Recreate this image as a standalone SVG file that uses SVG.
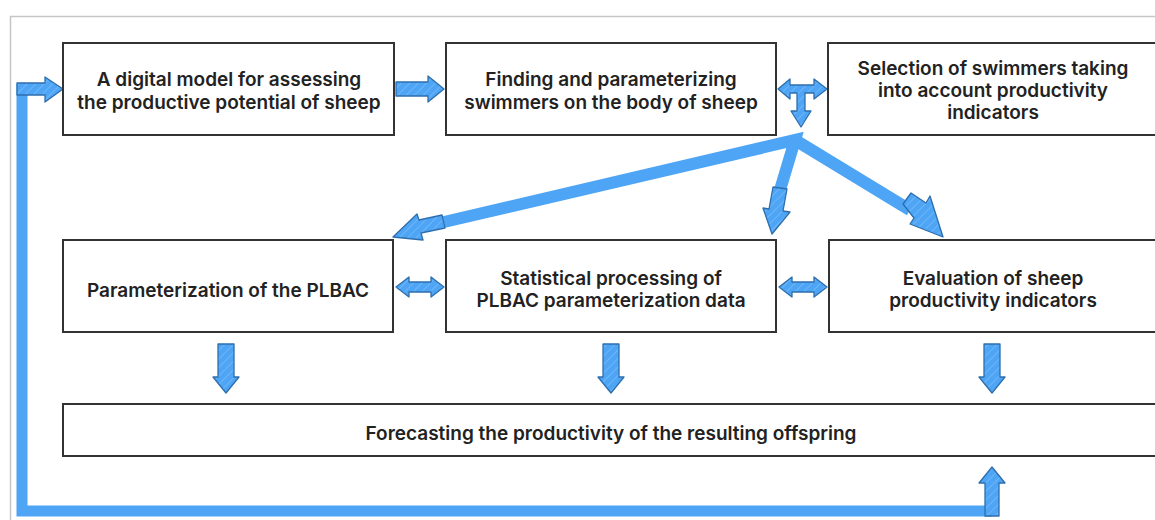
<svg xmlns="http://www.w3.org/2000/svg" width="1155" height="520" viewBox="0 0 1155 520">
  <style>
    .box { fill: #ffffff; stroke: #333333; stroke-width: 2; }
    .lbl { font-family: Inter, "Noto Sans", "Liberation Sans", sans-serif; font-weight: 600; font-size: 19px; fill: #222222; text-anchor: middle; }
    .arrow { fill: url(#hatch); stroke: #2d6ead; stroke-width: 1.3; stroke-linejoin: round; }
    .line { stroke: #4ea5f5; fill: none; stroke-linecap: butt; stroke-linejoin: miter; }
  </style>
  <defs>
    <pattern id="hatch" patternUnits="userSpaceOnUse" width="6" height="6" patternTransform="rotate(45)">
      <rect width="6" height="6" fill="#4ea5f5"/>
      <line x1="0" y1="0" x2="0" y2="6" stroke="#8cc6fa" stroke-width="1"/>
    </pattern>
  </defs>

  <!-- frame -->
  <path d="M10.5,520 V16.5 H1160" fill="none" stroke="#c6c6c6" stroke-width="1.5"/>

  <!-- connectors -->
  <g id="connectors">
    <!-- feedback loop from the forecast back to the digital model -->
    <path class="line" d="M992,511 H22 V89 H30" stroke-width="11"/>
    <path class="arrow" d="M17,83 H45 V77 L63,89 L45,102 V95 H17 Z"/>
    <path class="arrow" d="M985,516 V483 H979 L992,467 L1005,483 H999 V516 Z"/>

    <!-- model -> finding -->
    <path class="arrow" d="M396,82 H428 V76 L444,89 L428,102 V96 H396 Z"/>

    <!-- finding <-> selection, with branch down -->
    <path class="arrow" d="M778,89 L790,79 V85 H814 V79 L827,89 L814,99 V93 H805 V111 H811 L801,127 L791,111 H797 V93 H790 V99 Z"/>

    <!-- fan out to the second row -->
    <path class="line" d="M444,222 L795,140 L780,190" stroke-width="12"/>
    <path class="line" d="M795,140 L910,210" stroke-width="12"/>
    <path class="arrow" d="M442,215 L419,220 L417,214 L393,237 L423,240 L421,233 L445,228 Z"/>
    <path class="arrow" d="M773,187 L787,189 L783,211 L790,212 L772,234 L763,208 L769,209 Z"/>
    <path class="arrow" d="M903,204 L911,193 L926,203 L930,196 L943,237 L910,224 L914,218 Z"/>

    <!-- second row double arrows -->
    <path class="arrow" d="M396,287 L409,277 V282 H431 V277 L444,287 L431,297 V292 H409 V297 Z"/>
    <path class="arrow" d="M779,287 L792,277 V282 H814 V277 L827,287 L814,297 V292 H792 V297 Z"/>

    <!-- second row -> forecast -->
    <path class="arrow" d="M218,344 H234 V377 H239 L226,393 L213,377 H218 Z"/>
    <path class="arrow" d="M603,344 H619 V377 H624 L611,393 L598,377 H603 Z"/>
    <path class="arrow" d="M984,344 H1000 V377 H1005 L992,393 L979,377 H984 Z"/>
  </g>

  <g id="node-model">
    <rect class="box" x="63" y="43" width="331" height="92"/>
    <text class="lbl" x="229" y="86">A digital model for assessing</text>
    <text class="lbl" x="229" y="109">the productive potential of sheep</text>
  </g>
  <g id="node-finding">
    <rect class="box" x="446" y="43" width="330" height="92"/>
    <text class="lbl" x="611" y="86">Finding and parameterizing</text>
    <text class="lbl" x="611" y="109">swimmers on the body of sheep</text>
  </g>
  <g id="node-selection">
    <rect class="box" x="828" y="43" width="340" height="92"/>
    <text class="lbl" x="993" y="75">Selection of swimmers taking</text>
    <text class="lbl" x="993" y="97">into account productivity</text>
    <text class="lbl" x="993" y="119">indicators</text>
  </g>
  <g id="node-plbac">
    <rect class="box" x="63" y="240" width="330" height="92"/>
    <text class="lbl" x="228" y="297">Parameterization of the PLBAC</text>
  </g>
  <g id="node-statistics">
    <rect class="box" x="446" y="240" width="330" height="92"/>
    <text class="lbl" x="611" y="285">Statistical processing of</text>
    <text class="lbl" x="611" y="307">PLBAC parameterization data</text>
  </g>
  <g id="node-evaluation">
    <rect class="box" x="829" y="240" width="340" height="92"/>
    <text class="lbl" x="993" y="285">Evaluation of sheep</text>
    <text class="lbl" x="993" y="307">productivity indicators</text>
  </g>
  <g id="node-forecast">
    <rect class="box" x="63" y="404" width="1105" height="52"/>
    <text class="lbl" x="611" y="440">Forecasting the productivity of the resulting offspring</text>
  </g>
</svg>
